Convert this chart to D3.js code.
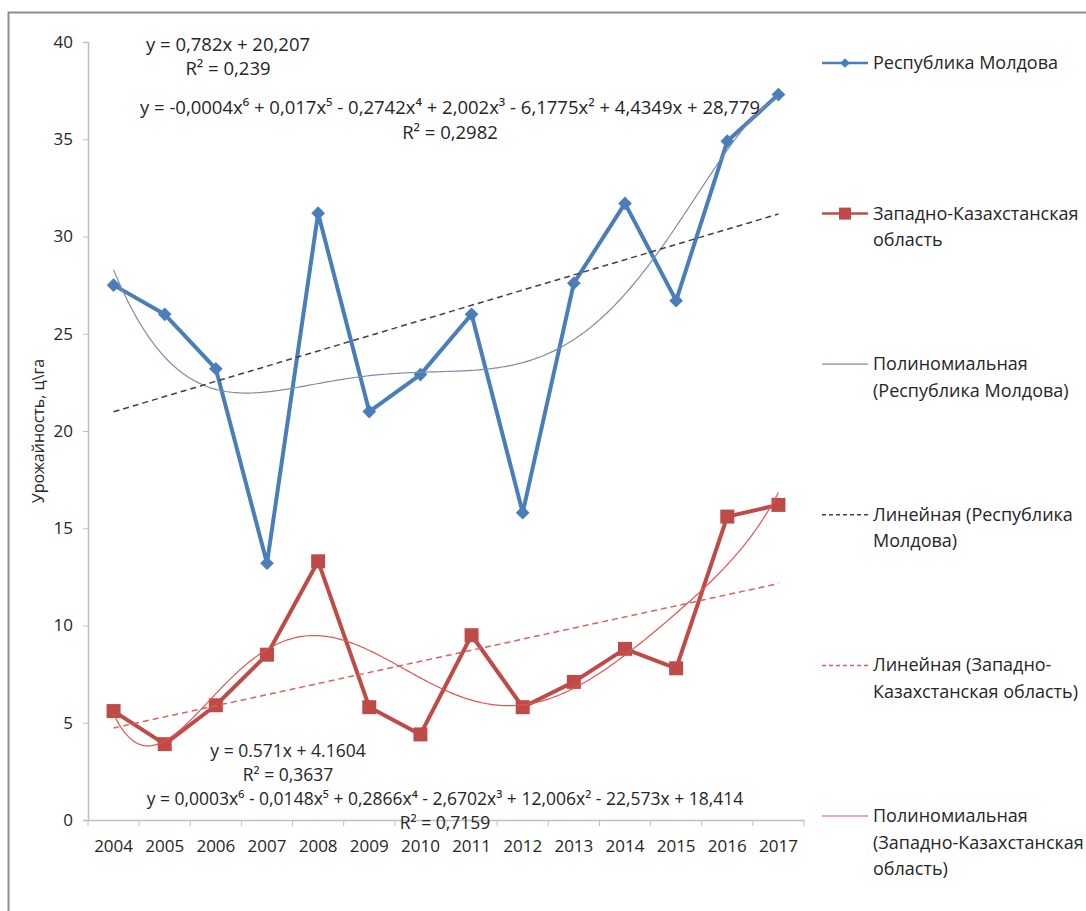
<!DOCTYPE html>
<html>
<head>
<meta charset="utf-8">
<title>Урожайность</title>
<style>
  body { margin: 0; background: #fff; }
  svg text { font-family: "Open Sans", "DejaVu Sans", sans-serif; fill: #262626; }
</style>
</head>
<body>
<svg width="1086" height="911"></svg>
<script src="https://d3js.org/d3.v7.min.js"></script>
<script>
// data
var years = ["2004","2005","2006","2007","2008","2009","2010","2011","2012","2013","2014","2015","2016","2017"];
var moldova = [27.5, 26.0, 23.2, 13.2, 31.2, 21.0, 22.9, 26.0, 15.8, 27.6, 31.7, 26.7, 34.9, 37.3];
var kazakh  = [5.6, 3.9, 5.9, 8.5, 13.3, 5.8, 4.4, 9.5, 5.8, 7.1, 8.8, 7.8, 15.6, 16.2];
var yTicks = [0, 5, 10, 15, 20, 25, 30, 35, 40];

var legendItems = [
  {lines: ["Республика Молдова"], kind: "md"},
  {lines: ["Западно-Казахстанская", "область"], kind: "kz"},
  {lines: ["Полиномиальная", "(Республика Молдова)"], kind: "mdPoly"},
  {lines: ["Линейная (Республика", "Молдова)"], kind: "mdLin"},
  {lines: ["Линейная (Западно-", "Казахстанская область)"], kind: "kzLin"},
  {lines: ["Полиномиальная", "(Западно-Казахстанская", "область)"], kind: "kzPoly"}
];

var equations = [
  {text: "y = 0,782x + 20,207", x: 228, y: 51, size: 18.5},
  {text: "R² = 0,239", x: 228, y: 75, size: 18.5},
  {text: "y = -0,0004x⁶ + 0,017x⁵ - 0,2742x⁴ + 2,002x³ - 6,1775x² + 4,4349x + 28,779", x: 450, y: 114, size: 18.5},
  {text: "R² = 0,2982", x: 450, y: 139, size: 18.5},
  {text: "y = 0.571x + 4.1604", x: 288, y: 757, size: 17.5},
  {text: "R² = 0,3637", x: 288, y: 781, size: 17.5},
  {text: "y = 0,0003x⁶ - 0,0148x⁵ + 0,2866x⁴ - 2,6702x³ + 12,006x² - 22,573x + 18,414", x: 445, y: 805, size: 17.5},
  {text: "R² = 0,7159", x: 445, y: 829, size: 17.5}
];

var styles = {
  md:     {color: "#4a7ebb", width: 4},
  kz:     {color: "#be4b48", width: 4},
  mdPoly: {color: "#7d8ca8", width: 1.2},
  mdLin:  {color: "#404040", width: 1.5, dash: "6,4"},
  kzLin:  {color: "#e0605c", width: 1.5, dash: "6,4"},
  kzPoly: {color: "#e8524e", width: 1.2}
};

// least squares polynomial fit, x is 1..n like Excel
function polyfit(ys, deg) {
  var n = ys.length, c = (n + 1) / 2, s = (n - 1) / 2;
  var m = deg + 1;
  var A = [], b = [];
  for (var i = 0; i < m; i++) { A.push(new Array(m).fill(0)); b.push(0); }
  ys.forEach(function(yv, k) {
    var t = (k + 1 - c) / s;
    for (var i = 0; i < m; i++) {
      for (var j = 0; j < m; j++) A[i][j] += Math.pow(t, i + j);
      b[i] += yv * Math.pow(t, i);
    }
  });
  for (var col = 0; col < m; col++) {
    var p = col;
    for (var r = col + 1; r < m; r++) if (Math.abs(A[r][col]) > Math.abs(A[p][col])) p = r;
    var tmp = A[col]; A[col] = A[p]; A[p] = tmp;
    var tb = b[col]; b[col] = b[p]; b[p] = tb;
    for (var r2 = col + 1; r2 < m; r2++) {
      var f = A[r2][col] / A[col][col];
      for (var k2 = col; k2 < m; k2++) A[r2][k2] -= f * A[col][k2];
      b[r2] -= f * b[col];
    }
  }
  var coef = new Array(m).fill(0);
  for (var i2 = m - 1; i2 >= 0; i2--) {
    var sum = b[i2];
    for (var j2 = i2 + 1; j2 < m; j2++) sum -= A[i2][j2] * coef[j2];
    coef[i2] = sum / A[i2][i2];
  }
  return function(xv) {
    var t = (xv - c) / s, v = 0;
    for (var i = m - 1; i >= 0; i--) v = v * t + coef[i];
    return v;
  };
}

var svg = d3.select("svg");

// chart frame
svg.append("rect")
    .attr("x", 8.5).attr("y", 12.5)
    .attr("width", 1200).attr("height", 1000)
    .attr("fill", "none").attr("stroke", "#8c8c8c").attr("stroke-width", 2);

var plotLeft = 88, plotRight = 804, plotTop = 42, plotBottom = 820;

var x = d3.scaleBand().domain(years).range([plotLeft, plotRight]);
var bw = x.bandwidth();
var cx = function(i) { return x(years[i]) + bw / 2; };
var xl = d3.scaleLinear().domain([1, years.length]).range([cx(0), cx(years.length - 1)]);
var y = d3.scaleLinear().domain([0, 40]).range([plotBottom, plotTop]);

// y axis
var yAxis = svg.append("g")
    .attr("transform", "translate(" + plotLeft + ",0)")
    .call(d3.axisLeft(y).tickValues(yTicks).tickSize(5).tickPadding(10));
yAxis.select(".domain").attr("stroke", "#bfbfbf").attr("stroke-width", 1.5);
yAxis.selectAll(".tick line").attr("stroke", "#bfbfbf");
yAxis.selectAll("text").style("font-size", "17px").attr("fill", "#262626");

// x axis
var xAxis = svg.append("g")
    .attr("transform", "translate(0," + plotBottom + ")")
    .call(d3.axisBottom(x).tickSize(0).tickPadding(20));
xAxis.select(".domain").attr("stroke", "#bfbfbf").attr("stroke-width", 1.5);
xAxis.selectAll("text").style("font-size", "17px").attr("fill", "#262626");
xAxis.selectAll(".edge").data(d3.range(years.length + 1)).enter().append("line")
    .attr("class", "edge")
    .attr("x1", function(i) { return plotLeft + i * bw; })
    .attr("x2", function(i) { return plotLeft + i * bw; })
    .attr("y1", 0).attr("y2", 6)
    .attr("stroke", "#bfbfbf");

svg.append("text")
    .attr("transform", "translate(44," + ((plotTop + plotBottom) / 2) + ") rotate(-90)")
    .attr("text-anchor", "middle")
    .style("font-size", "16px")
    .text("Урожайность, ц\\га");

var line = d3.line().x(function(d, i) { return cx(i); }).y(function(d) { return y(d); });
var curve = function(fn) {
  var xs = d3.range(1, years.length + 0.001, 0.05);
  return d3.line().x(function(v) { return xl(v); }).y(function(v) { return y(fn(v)); })(xs);
};

function drawLine(path, st) {
  return svg.append("path").attr("d", path)
      .attr("fill", "none")
      .attr("stroke", st.color)
      .attr("stroke-width", st.width)
      .attr("stroke-dasharray", st.dash || null)
      .attr("stroke-linejoin", "round");
}

// series
drawLine(line(moldova), styles.md);
drawLine(line(kazakh), styles.kz);

svg.append("g").selectAll("path").data(moldova).enter().append("path")
    .attr("d", d3.symbol().type(d3.symbolDiamond2).size(120))
    .attr("transform", function(d, i) { return "translate(" + cx(i) + "," + y(d) + ")"; })
    .attr("fill", styles.md.color);

svg.append("g").selectAll("rect").data(kazakh).enter().append("rect")
    .attr("x", function(d, i) { return cx(i) - 7; })
    .attr("y", function(d) { return y(d) - 7; })
    .attr("width", 14).attr("height", 14)
    .attr("fill", styles.kz.color);

// trendlines
drawLine(curve(polyfit(moldova, 6)), styles.mdPoly);
drawLine(curve(polyfit(moldova, 1)), styles.mdLin);
drawLine(curve(polyfit(kazakh, 1)), styles.kzLin);
drawLine(curve(polyfit(kazakh, 6)), styles.kzPoly);

// equation labels
svg.append("g").selectAll("text").data(equations).enter().append("text")
    .attr("x", function(d) { return d.x; })
    .attr("y", function(d) { return d.y; })
    .attr("text-anchor", "middle")
    .style("font-size", function(d) { return d.size + "px"; })
    .text(function(d) { return d.text; });

// legend
var lg = svg.append("g");
legendItems.forEach(function(item, i) {
  var ly = 63 + i * 150.6;
  var st = styles[item.kind];
  lg.append("line")
      .attr("x1", 822).attr("x2", 868).attr("y1", ly).attr("y2", ly)
      .attr("stroke", st.color)
      .attr("stroke-width", Math.min(st.width, 2.5))
      .attr("stroke-dasharray", st.dash ? "4,3" : null);
  if (item.kind === "md") {
    lg.append("path").attr("d", d3.symbol().type(d3.symbolDiamond2).size(60))
        .attr("transform", "translate(845," + ly + ")").attr("fill", st.color);
  }
  if (item.kind === "kz") {
    lg.append("rect").attr("x", 839).attr("y", ly - 6).attr("width", 12).attr("height", 12)
        .attr("fill", st.color);
  }
  item.lines.forEach(function(t, j) {
    lg.append("text")
        .attr("x", 873).attr("y", ly + 6 + j * 26.5)
        .style("font-size", "18px")
        .text(t);
  });
});
</script>
</body>
</html>
